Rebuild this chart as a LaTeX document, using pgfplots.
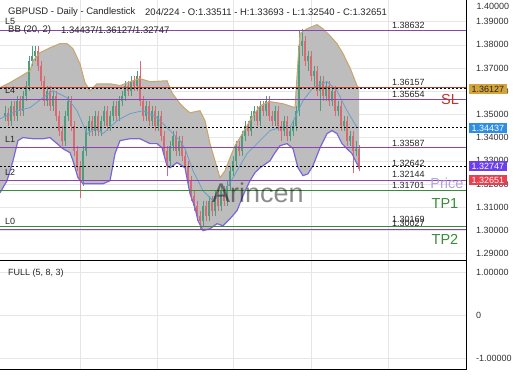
\documentclass[border=0pt]{standalone}
\usepackage{pgfplots}
\pgfplotsset{compat=1.18}
\usepackage{pgfplotstable}
\usepackage{fontspec}
\setmainfont{Liberation Sans}

\definecolor{upc}{HTML}{4E9E7E}
\definecolor{dnc}{HTML}{D96A74}
\definecolor{bbfill}{HTML}{BDBDBD}
\definecolor{bbup}{HTML}{C9A56A}
\definecolor{bblo}{HTML}{7B66D6}
\definecolor{bbmid}{HTML}{6A9FCC}
\definecolor{lvl}{HTML}{8A44B0}
\definecolor{slred}{HTML}{C0392B}
\definecolor{tpgreen}{HTML}{3A8A3A}
\definecolor{gridc}{HTML}{E6E6E6}
\definecolor{ticktxt}{HTML}{333333}
\definecolor{boxgold}{HTML}{D4A43A}
\definecolor{boxblue}{HTML}{2F8DE4}
\definecolor{boxpurple}{HTML}{6B3EF0}
\definecolor{boxred}{HTML}{E8404E}
\definecolor{lav}{HTML}{B3A3E0}

\pgfplotstableread{
x o c h l
5 1.3494 1.3507 1.3537 1.3473
8 1.3507 1.3473 1.3529 1.3451
11 1.3473 1.3537 1.3559 1.3451
14 1.3537 1.3494 1.3559 1.3473
17 1.3494 1.3559 1.3581 1.3473
20 1.3559 1.3516 1.3581 1.3494
23 1.3516 1.3581 1.3602 1.3494
26 1.3581 1.3624 1.3645 1.3559
29 1.3624 1.3731 1.3753 1.3602
32 1.3731 1.3753 1.3796 1.3710
35 1.3753 1.3775 1.3796 1.3731
38 1.3775 1.3710 1.3796 1.3688
41 1.3710 1.3645 1.3731 1.3624
44 1.3645 1.3559 1.3667 1.3537
47 1.3559 1.3602 1.3624 1.3537
50 1.3602 1.3537 1.3624 1.3516
53 1.3537 1.3581 1.3602 1.3516
56 1.3581 1.3494 1.3602 1.3473
59 1.3494 1.3430 1.3516 1.3408
62 1.3430 1.3387 1.3451 1.3365
65 1.3387 1.3494 1.3516 1.3365
68 1.3494 1.3559 1.3581 1.3473
71 1.3559 1.3451 1.3581 1.3430
74 1.3451 1.3344 1.3473 1.3322
77 1.3344 1.3279 1.3365 1.3257
80 1.3279 1.3214 1.3300 1.3141
83 1.3214 1.3344 1.3365 1.3193
86 1.3344 1.3430 1.3451 1.3322
89 1.3430 1.3473 1.3494 1.3408
92 1.3473 1.3430 1.3494 1.3408
95 1.3430 1.3494 1.3516 1.3408
98 1.3494 1.3430 1.3516 1.3408
101 1.3430 1.3473 1.3494 1.3408
104 1.3473 1.3516 1.3537 1.3451
107 1.3516 1.3451 1.3537 1.3430
110 1.3451 1.3494 1.3516 1.3430
113 1.3494 1.3537 1.3559 1.3473
116 1.3537 1.3494 1.3559 1.3473
119 1.3494 1.3559 1.3581 1.3473
122 1.3559 1.3581 1.3602 1.3537
125 1.3581 1.3624 1.3645 1.3559
128 1.3624 1.3602 1.3645 1.3581
131 1.3602 1.3645 1.3667 1.3581
134 1.3645 1.3624 1.3667 1.3602
137 1.3624 1.3667 1.3688 1.3602
140 1.3667 1.3559 1.3731 1.3537
143 1.3559 1.3494 1.3581 1.3473
146 1.3494 1.3537 1.3559 1.3473
149 1.3537 1.3473 1.3559 1.3451
152 1.3473 1.3516 1.3537 1.3451
155 1.3516 1.3451 1.3537 1.3430
158 1.3451 1.3494 1.3516 1.3430
161 1.3494 1.3408 1.3516 1.3387
164 1.3408 1.3344 1.3430 1.3322
167 1.3344 1.3300 1.3365 1.3236
170 1.3300 1.3365 1.3387 1.3279
173 1.3365 1.3408 1.3430 1.3344
176 1.3408 1.3344 1.3430 1.3322
179 1.3344 1.3387 1.3408 1.3322
182 1.3387 1.3322 1.3408 1.3300
185 1.3322 1.3279 1.3344 1.3257
188 1.3279 1.3214 1.3300 1.3193
191 1.3214 1.3150 1.3236 1.3128
194 1.3150 1.3106 1.3171 1.3085
197 1.3106 1.3063 1.3128 1.3042
200 1.3063 1.3042 1.3085 1.3007
203 1.3042 1.3106 1.3128 1.3020
206 1.3106 1.3063 1.3128 1.3042
209 1.3063 1.3128 1.3150 1.3042
212 1.3128 1.3085 1.3150 1.3063
215 1.3085 1.3150 1.3171 1.3063
218 1.3150 1.3106 1.3171 1.3085
221 1.3106 1.3171 1.3193 1.3085
224 1.3171 1.3128 1.3193 1.3106
227 1.3128 1.3193 1.3214 1.3106
230 1.3193 1.3257 1.3279 1.3171
233 1.3257 1.3300 1.3322 1.3236
236 1.3300 1.3365 1.3387 1.3279
239 1.3365 1.3344 1.3387 1.3322
242 1.3344 1.3408 1.3430 1.3322
245 1.3408 1.3451 1.3473 1.3387
248 1.3451 1.3430 1.3473 1.3408
251 1.3430 1.3494 1.3516 1.3408
254 1.3494 1.3516 1.3537 1.3473
257 1.3516 1.3473 1.3537 1.3451
260 1.3473 1.3537 1.3559 1.3451
263 1.3537 1.3516 1.3559 1.3494
266 1.3516 1.3559 1.3581 1.3494
269 1.3559 1.3494 1.3581 1.3473
272 1.3494 1.3473 1.3516 1.3451
275 1.3473 1.3516 1.3537 1.3451
278 1.3516 1.3451 1.3537 1.3430
281 1.3451 1.3430 1.3473 1.3387
284 1.3430 1.3473 1.3494 1.3408
287 1.3473 1.3408 1.3494 1.3387
290 1.3408 1.3430 1.3451 1.3387
293 1.3430 1.3451 1.3473 1.3408
296 1.3451 1.3516 1.3537 1.3430
299 1.3516 1.3796 1.3861 1.3494
302 1.3796 1.3818 1.3869 1.3753
305 1.3818 1.3731 1.3839 1.3710
308 1.3731 1.3753 1.3775 1.3688
311 1.3753 1.3667 1.3775 1.3645
314 1.3667 1.3688 1.3710 1.3624
317 1.3688 1.3602 1.3710 1.3581
320 1.3602 1.3645 1.3667 1.3516
323 1.3645 1.3581 1.3667 1.3559
326 1.3581 1.3624 1.3645 1.3559
329 1.3624 1.3559 1.3645 1.3537
332 1.3559 1.3602 1.3624 1.3537
335 1.3602 1.3516 1.3624 1.3494
338 1.3516 1.3537 1.3559 1.3494
341 1.3537 1.3451 1.3559 1.3430
344 1.3451 1.3473 1.3494 1.3430
347 1.3473 1.3387 1.3494 1.3365
350 1.3387 1.3408 1.3430 1.3365
353 1.3408 1.3344 1.3430 1.3249
356 1.3344 1.33511 1.3387 1.3322
359 1.33511 1.32651 1.33693 1.32540
}\candles

\pgfplotstableread{
x y
0 1.3615
10 1.3637
20 1.3662
30 1.3688
33 1.3731
40 1.3766
50 1.3787
60 1.3805
67 1.3805
73 1.3783
80 1.3718
85 1.3637
90 1.3602
97 1.3632
110 1.3632
120 1.3624
133 1.3645
140 1.3654
150 1.3641
167 1.3645
172 1.3593
180 1.3546
185 1.3525
190 1.3507
200 1.3516
205 1.3473
210 1.3374
215 1.3300
220 1.3227
225 1.3257
230 1.3313
235 1.3365
240 1.3400
250 1.3473
260 1.3537
270 1.3555
283 1.3546
295 1.3529
298 1.3731
300 1.3848
307 1.3869
317 1.3887
323 1.3869
330 1.3839
337 1.3805
343 1.3762
350 1.3701
357 1.3624
359 1.36127
}\bbupper

\pgfplotstableread{
x y
0 1.3162
7 1.3214
13 1.3300
18 1.3387
23 1.3400
33 1.3395
43 1.3395
50 1.3400
57 1.3374
63 1.3352
70 1.3335
73 1.3300
78 1.3227
83 1.3201
95 1.3201
103 1.3201
110 1.3214
115 1.3331
120 1.3387
130 1.3395
140 1.3395
150 1.3374
157 1.3374
162 1.3356
167 1.3279
170 1.3270
177 1.3292
185 1.3270
190 1.3158
195 1.3098
198 1.3042
203 1.2999
210 1.3007
217 1.3029
223 1.3020
230 1.3050
237 1.3085
243 1.3150
250 1.3214
255 1.3249
260 1.3270
270 1.3300
275 1.3335
280 1.3365
287 1.3374
293 1.3352
298 1.3270
303 1.3236
308 1.3244
313 1.3279
320 1.3356
327 1.3417
332 1.3430
337 1.3417
342 1.3374
347 1.3352
352 1.3331
357 1.3287
359 1.32747
}\bblower

\pgfplotstableread{
x y
0 1.3481
17 1.3516
30 1.3529
43 1.3572
53 1.3602
67 1.3572
77 1.3516
87 1.3417
95 1.3438
103 1.3417
117 1.3473
130 1.3503
143 1.3516
157 1.3486
170 1.3430
180 1.3387
185 1.3352
193 1.3257
203 1.3171
213 1.3128
223 1.3158
233 1.3227
247 1.3331
260 1.3387
270 1.3430
280 1.3443
290 1.3443
303 1.3559
313 1.3615
327 1.3641
337 1.3602
347 1.3516
357 1.3443
359 1.34437
}\bbmiddle

% band polygon: upper band forward, lower band backward
\pgfplotstablesort[sort key=x, sort cmp=float >]{\bblowerrev}{\bblower}
\pgfplotstablevertcat{\bbpoly}{\bbupper}
\pgfplotstablevertcat{\bbpoly}{\bblowerrev}

\begin{document}
\begin{tikzpicture}[x=1pt,y=1pt]
\fill[white] (0,0) rectangle (520,390);

\begin{axis}[
  at={(0pt,130pt)}, anchor=south west, scale only axis,
  width=466pt, height=260pt,
  xmin=0, xmax=466, ymin=1.28724, ymax=1.3993,
  axis line style={draw=none},
  xtick={80,157,233,311,388}, xticklabels={{},{},{},{},{}}, xmajorgrids,
  ytick={1.29,1.30,1.31,1.32,1.33,1.34,1.35,1.36,1.37,1.38,1.39},
  ymajorgrids, grid style={gridc, line width=0.5pt},
  major tick length=0pt,
  ytick pos=right, yticklabel pos=right,
  yticklabel style={font=\fontsize{9}{10}\selectfont, text=ticktxt, xshift=6.5pt,
    /pgf/number format/fixed, /pgf/number format/fixed zerofill,
    /pgf/number format/precision=5, /pgf/number format/assume math mode=true},
  scaled y ticks=false,
]
% Bollinger band area
\addplot[fill=bbfill, draw=none] table[x=x,y=y] {\bbpoly} -- cycle;

% candles: wicks
\addplot[upc, line width=0.6pt, restrict expr to domain={\thisrow{c}-\thisrow{o}}{0:1},
  quiver={u=0, v=\thisrow{h}-\thisrow{l}}] table[x=x, y=l] {\candles};
\addplot[dnc, line width=0.6pt, restrict expr to domain={\thisrow{c}-\thisrow{o}}{-1:0},
  quiver={u=0, v=\thisrow{h}-\thisrow{l}}] table[x=x, y=l] {\candles};
% candles: bodies
\addplot[upc, line width=2pt, restrict expr to domain={\thisrow{c}-\thisrow{o}}{0:1},
  quiver={u=0, v=\thisrow{c}-\thisrow{o}}] table[x=x, y=o] {\candles};
\addplot[dnc, line width=2pt, restrict expr to domain={\thisrow{c}-\thisrow{o}}{-1:0},
  quiver={u=0, v=\thisrow{c}-\thisrow{o}}] table[x=x, y=o] {\candles};

% band lines
\addplot[bbup, line width=1pt] table[x=x,y=y] {\bbupper};
\addplot[bblo, line width=1.2pt] table[x=x,y=y] {\bblower};
\addplot[bbmid, line width=0.8pt] table[x=x,y=y] {\bbmiddle};

% level lines
\addplot[lvl, line width=1.1pt] coordinates {(0,1.38632) (466,1.38632)};
\addplot[slred, line width=1.1pt] coordinates {(0,1.36157) (466,1.36157)};
\addplot[lvl, line width=1.1pt] coordinates {(0,1.35654) (466,1.35654)};
\addplot[lvl, line width=1.1pt] coordinates {(0,1.33587) (466,1.33587)};
\addplot[lvl, line width=1.1pt] coordinates {(0,1.32144) (466,1.32144)};
\addplot[tpgreen, line width=1.1pt] coordinates {(0,1.31701) (466,1.31701)};
\addplot[tpgreen, line width=1.1pt] coordinates {(0,1.30169) (466,1.30169)};
\addplot[lvl, line width=1.1pt] coordinates {(0,1.30027) (466,1.30027)};
% dashed BB current values
\addplot[black, line width=0.8pt, dash pattern=on 2pt off 2pt] coordinates {(0,1.36127) (466,1.36127)};
\addplot[black, line width=0.8pt, dash pattern=on 2pt off 2pt] coordinates {(0,1.34437) (466,1.34437)};
\addplot[black, line width=0.8pt, dash pattern=on 2pt off 2pt] coordinates {(0,1.32747) (466,1.32747)};
\end{axis}

\begin{axis}[
  at={(0pt,21pt)}, anchor=south west, scale only axis,
  width=466pt, height=108pt,
  xmin=0, xmax=466, ymin=-1.256, ymax=1.256,
  axis line style={draw=none},
  xtick={80,157,233,311,388}, xticklabels={{},{},{},{},{}}, xmajorgrids,
  ytick={-1,0,1}, yticklabels={-1.00000,0,1.00000},
  ymajorgrids, grid style={gridc, line width=0.5pt},
  major tick length=0pt,
  ytick pos=right, yticklabel pos=right,
  yticklabel style={font=\fontsize{9}{10}\selectfont, text=ticktxt, xshift=6.5pt},
]
\addplot[draw=none] coordinates {(0,0) (466,0)};
\end{axis}

% frame lines
\draw[black, line width=0.9pt] (0,129.5) -- (466.5,129.5);
\draw[black, line width=0.9pt] (466.5,390) -- (466.5,21) -- (0,21);

% watermark
\node[font=\fontsize{27}{30}\selectfont, text=black, opacity=0.45] at (258,197) {Arincen};

% header texts
\node[anchor=west, inner sep=0pt, font=\fontsize{9.5}{11}\selectfont, text=black!85] at (8,377.5) {GBPUSD - Daily - Candlestick};
\node[anchor=west, inner sep=0pt, font=\fontsize{9.5}{11}\selectfont, text=black!85] at (145,377.5) {204/224 - O:1.33511 - H:1.33693 - L:1.32540 - C:1.32651};
\node[anchor=west, inner sep=0pt, font=\fontsize{9.5}{11}\selectfont, text=black!85] at (8,360) {BB (20, 2)};
\node[anchor=west, inner sep=0pt, font=\fontsize{9.5}{11}\selectfont, text=black!85] at (61,360) {1.34437/1.36127/1.32747};

% L labels
\foreach \lab/\yy in {L5/369, L4/300, L1/251, L2/218, L0/169}
  \node[anchor=west, inner sep=0pt, font=\fontsize{9}{10}\selectfont, text=black!85] at (5,\yy) {\lab};

% level value labels
\foreach \lab/\yy in {1.38632/365, 1.36157/308, 1.35654/296, 1.33587/247, 1.32642/227, 1.32144/216, 1.31701/205, 1.30169/171, 1.30027/167}
  \node[anchor=west, inner sep=0pt, font=\fontsize{9}{10}\selectfont, text=black!85] at (392,\yy) {\lab};

% SL / TP / Price
\node[font=\fontsize{14.5}{16}\selectfont, text=slred!90!red] at (450,290) {SL};
\node[font=\fontsize{14.5}{16}\selectfont, text=lav] at (447,207) {Price};
\node[font=\fontsize{14.5}{16}\selectfont, text=tpgreen] at (445,186) {TP1};
\node[font=\fontsize{14.5}{16}\selectfont, text=tpgreen] at (445,151) {TP2};

% top tick label outside range
\node[anchor=west, font=\fontsize{9}{10}\selectfont, text=ticktxt] at (473,384) {1.40000};

% value boxes
\node[anchor=west, fill=boxgold, text=black!85, inner xsep=2.5pt, inner ysep=1pt, minimum height=10pt, font=\fontsize{9}{10}\selectfont] at (469,301) {1.36127};
\node[anchor=west, fill=boxblue, text=white, inner xsep=2.5pt, inner ysep=1pt, minimum height=10pt, font=\fontsize{9}{10}\selectfont] at (469,262) {1.34437};
\node[anchor=west, fill=boxpurple, text=white, inner xsep=2.5pt, inner ysep=1pt, minimum height=10pt, font=\fontsize{9}{10}\selectfont] at (469,224) {1.32747};
\node[anchor=west, fill=boxred, text=white, inner xsep=2.5pt, inner ysep=1pt, minimum height=10pt, font=\fontsize{9}{10}\selectfont] at (469,210) {1.32651};

% lower panel label
\node[anchor=west, inner sep=0pt, font=\fontsize{9}{10}\selectfont, text=black!85] at (8,117) {FULL (5, 8, 3)};

\pgfresetboundingbox
\path[use as bounding box] (0,0) rectangle (520,390);
\end{tikzpicture}
\end{document}
